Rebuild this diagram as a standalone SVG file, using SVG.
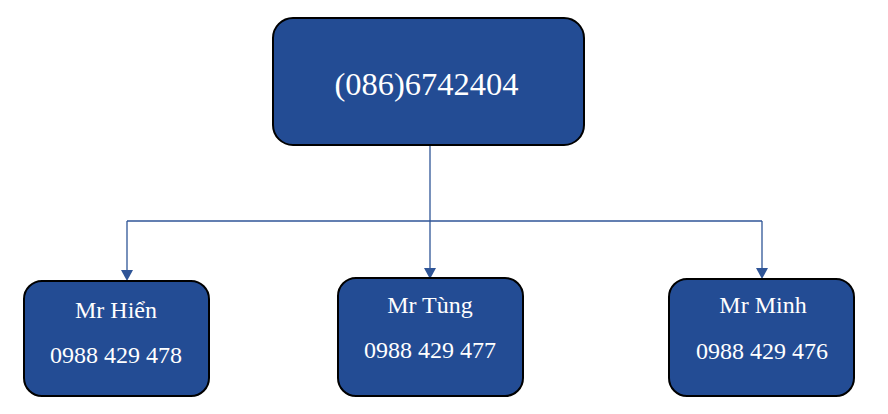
<svg xmlns="http://www.w3.org/2000/svg" width="888" height="414" viewBox="0 0 888 414">
<style>
.box{fill:#234C94;stroke:#000;stroke-width:2}
.t{font-family:"Liberation Serif","Times New Roman",serif;fill:#fff;text-anchor:middle}
.n{font-size:24px}
.c{fill:none;stroke:#2F5597;stroke-width:1.3}
.a{fill:#2F5597}
</style>
<rect width="888" height="414" fill="#fff"/>
<g id="connectors">
<path class="c" d="M430,145 V221"/>
<path class="c" d="M127,221 H762"/>
<path class="c" d="M127,221 V270"/>
<path class="c" d="M430,221 V268"/>
<path class="c" d="M762,221 V268"/>
<path class="a" d="M121,270 L133,270 L127,281 Z"/>
<path class="a" d="M424,268 L436,268 L430,279 Z"/>
<path class="a" d="M756,268 L768,268 L762,279 Z"/>
</g>
<g id="root">
<rect class="box" x="273" y="18" width="311" height="127" rx="20"/>
<text class="t" x="426.5" y="95" font-size="32.5">(086)6742404</text>
</g>
<g id="hien">
<rect class="box" x="24" y="281" width="185" height="115" rx="18"/>
<text class="t n" x="116" y="318">Mr Hiển</text>
<text class="t n" x="116" y="363">0988 429 478</text>
</g>
<g id="tung">
<rect class="box" x="338" y="278" width="185" height="118" rx="18"/>
<text class="t n" x="430" y="313">Mr Tùng</text>
<text class="t n" x="430" y="358">0988 429 477</text>
</g>
<g id="minh">
<rect class="box" x="669" y="279" width="185" height="117" rx="18"/>
<text class="t n" x="763" y="313">Mr Minh</text>
<text class="t n" x="762" y="359">0988 429 476</text>
</g>
</svg>
